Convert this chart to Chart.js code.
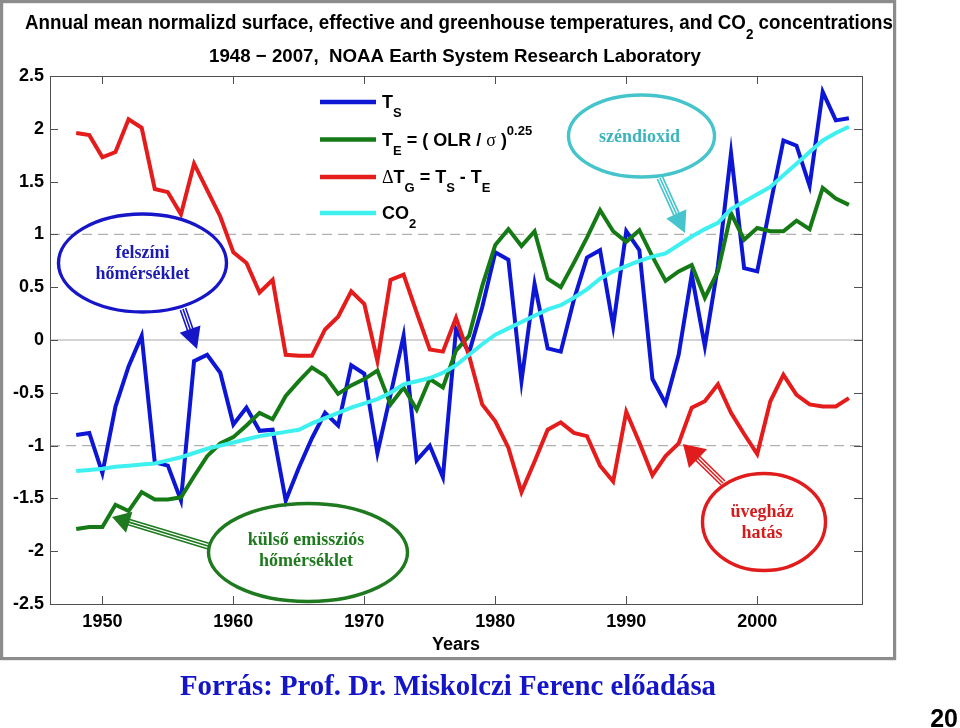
<!DOCTYPE html>
<html><head><meta charset="utf-8">
<script src="https://cdn.jsdelivr.net/npm/chart.js@4/dist/chart.umd.min.js"></script>
<style>html,body{margin:0;padding:0;background:#fff;}canvas{display:block;}</style>
</head><body>
<canvas id="c" width="960" height="728"></canvas>
<script>
// ---------- data ----------
const years = [1948,1949,1950,1951,1952,1953,1954,1955,1956,1957,1958,1959,
  1960,1961,1962,1963,1964,1965,1966,1967,1968,1969,
  1970,1971,1972,1973,1974,1975,1976,1977,1978,1979,
  1980,1981,1982,1983,1984,1985,1986,1987,1988,1989,
  1990,1991,1992,1993,1994,1995,1996,1997,1998,1999,
  2000,2001,2002,2003,2004,2005,2006,2007];
const surfaceTs = [-0.90,-0.88,-1.26,-0.63,-0.25,0.04,-1.16,-1.19,-1.52,-0.20,-0.14,-0.31,
  -0.80,-0.64,-0.86,-0.85,-1.52,-1.21,-0.93,-0.69,-0.81,-0.24,
  -0.32,-1.07,-0.52,0.04,-1.14,-1.00,-1.30,0.10,-0.12,0.31,
  0.83,0.76,-0.39,0.53,-0.08,-0.11,0.38,0.78,0.85,0.13,
  1.03,0.85,-0.37,-0.60,-0.14,0.62,-0.06,0.70,1.77,0.68,
  0.65,1.28,1.89,1.84,1.46,2.35,2.08,2.10];
const effectiveTe = [-1.79,-1.77,-1.77,-1.56,-1.62,-1.44,-1.51,-1.51,-1.49,-1.29,-1.10,-0.98,
  -0.92,-0.81,-0.69,-0.75,-0.53,-0.39,-0.26,-0.34,-0.51,-0.43,
  -0.37,-0.29,-0.61,-0.45,-0.66,-0.37,-0.45,-0.10,0.04,0.51,
  0.90,1.05,0.89,1.03,0.58,0.50,0.73,0.97,1.23,1.03,
  0.93,1.04,0.79,0.56,0.65,0.71,0.40,0.65,1.20,0.95,
  1.06,1.03,1.03,1.13,1.05,1.44,1.34,1.28];
const greenhouseDTg = [1.96,1.94,1.73,1.78,2.09,2.01,1.43,1.40,1.19,1.67,1.42,1.17,
  0.83,0.73,0.45,0.57,-0.14,-0.15,-0.15,0.10,0.22,0.46,
  0.34,-0.20,0.57,0.62,0.26,-0.09,-0.11,0.21,-0.15,-0.61,
  -0.77,-1.02,-1.44,-1.15,-0.85,-0.78,-0.88,-0.91,-1.19,-1.34,
  -0.68,-0.97,-1.28,-1.10,-0.98,-0.64,-0.58,-0.42,-0.69,-0.89,
  -1.08,-0.58,-0.33,-0.52,-0.61,-0.63,-0.63,-0.55];
const co2Norm = [-1.24,-1.23,-1.22,-1.20,-1.19,-1.18,-1.17,-1.14,-1.11,-1.07,-1.03,-1.00,
  -0.97,-0.94,-0.91,-0.89,-0.87,-0.85,-0.79,-0.74,-0.69,-0.64,
  -0.60,-0.56,-0.50,-0.42,-0.39,-0.36,-0.31,-0.24,-0.14,-0.04,
  0.05,0.11,0.17,0.23,0.29,0.33,0.40,0.48,0.58,0.65,
  0.70,0.75,0.79,0.82,0.90,0.98,1.05,1.11,1.24,1.31,
  1.38,1.45,1.56,1.67,1.78,1.89,1.96,2.02];
const xTickYears = [1950,1960,1970,1980,1990,2000];
const yTickValues = [2.5,2,1.5,1,0.5,0,-0.5,-1,-1.5,-2,-2.5];
const dashedLevels = [1,-1];
const solidLevels = [0];

// ---------- styles ----------
const SANS = "'Liberation Sans', Arial, sans-serif";
const SERIF = "'Liberation Serif', 'Times New Roman', serif";
const COL = {ts:'#0c16d4', te:'#157a15', tg:'#e41c1c', co2:'#3ef0f0'};

function pts(vals){ return years.map((y,i)=>({x:y,y:vals[i]})); }

function richWidth(ctx, parts, size, family){
  let w=0;
  for(const p of parts){
    const s = (p.sub||p.sup) ? Math.round(size*0.7) : size;
    ctx.font = (p.normal?'':'bold ') + s + 'px ' + (p.family||family);
    w += ctx.measureText(p.t).width;
  }
  return w;
}
function drawRich(ctx, x, y, parts, size, family, color){
  ctx.fillStyle = color; ctx.textBaseline='alphabetic'; ctx.textAlign='left';
  for(const p of parts){
    const s = (p.sub||p.sup) ? Math.round(size*0.7) : size;
    ctx.font = (p.normal?'':'bold ') + s + 'px ' + (p.family||family);
    const dy = p.sub ? size*0.5 : (p.sup ? -size*0.6 : 0);
    ctx.fillText(p.t, x, y+dy);
    x += ctx.measureText(p.t).width;
  }
}
// draw text at a given font size, squeezed horizontally to the target width
function drawRichFit(ctx, x, y, parts, size, family, color, target){
  const w = richWidth(ctx, parts, size, family);
  ctx.save(); ctx.translate(x,y); ctx.scale(target/w,1);
  drawRich(ctx, 0, 0, parts, size, family, color);
  ctx.restore();
}
function tripleArrow(ctx, x0,y0,x1,y1, headLen, headW, color){
  const L=Math.hypot(x1-x0,y1-y0), ux=(x1-x0)/L, uy=(y1-y0)/L, nx=-uy, ny=ux;
  const bx=x1-ux*headLen, by=y1-uy*headLen;
  ctx.save(); ctx.strokeStyle=color; ctx.fillStyle=color; ctx.lineWidth=1.6;
  for(const k of [-2.8,0,2.8]){
    ctx.beginPath(); ctx.moveTo(x0+nx*k,y0+ny*k); ctx.lineTo(bx+nx*k+ux*2,by+ny*k+uy*2); ctx.stroke();
  }
  ctx.beginPath(); ctx.moveTo(x1,y1);
  ctx.lineTo(bx+nx*headW/2,by+ny*headW/2); ctx.lineTo(bx-nx*headW/2,by-ny*headW/2);
  ctx.closePath(); ctx.fill(); ctx.restore();
}
function ellipseNote(ctx, cx, cy, rx, ry, color, textColor, lines){
  ctx.save(); ctx.strokeStyle=color; ctx.lineWidth=3.4;
  ctx.beginPath(); ctx.ellipse(cx,cy,rx,ry,0,0,Math.PI*2); ctx.stroke();
  ctx.fillStyle=textColor; ctx.font='bold 18px '+SERIF; ctx.textAlign='center'; ctx.textBaseline='alphabetic';
  for(const l of lines) ctx.fillText(l.t, cx+(l.dx||0), l.y);
  ctx.restore();
}

const overlay = {
  id:'overlay',
  beforeDraw(chart){
    const c=chart.ctx; c.save(); c.fillStyle='#fff'; c.fillRect(0,0,chart.width,chart.height); c.restore();
  },
  beforeDatasetsDraw(chart){
    const c=chart.ctx, a=chart.chartArea, ys=chart.scales.y;
    c.save();
    c.strokeStyle='#c4c4c4'; c.lineWidth=1.6;
    for(const v of solidLevels){ const p=ys.getPixelForValue(v); c.beginPath(); c.moveTo(a.left,p); c.lineTo(a.right,p); c.stroke(); }
    c.strokeStyle='#b0b0b0'; c.lineWidth=1.2; c.setLineDash([10,6]);
    for(const v of dashedLevels){ const p=ys.getPixelForValue(v); c.beginPath(); c.moveTo(a.left,p); c.lineTo(a.right,p); c.stroke(); }
    c.restore();
  },
  afterDatasetsDraw(chart){
    const c=chart.ctx, a=chart.chartArea, xs=chart.scales.x, ys=chart.scales.y;
    c.save();
    // box
    c.strokeStyle='#505050'; c.lineWidth=1;
    c.strokeRect(Math.round(a.left)+0.5, Math.round(a.top)+0.5, Math.round(a.right-a.left), Math.round(a.bottom-a.top));
    // inward ticks
    const tl=8;
    c.beginPath();
    for(const v of xTickYears){ const p=Math.round(xs.getPixelForValue(v))+0.5;
      c.moveTo(p,a.bottom); c.lineTo(p,a.bottom-tl); c.moveTo(p,a.top); c.lineTo(p,a.top+tl); }
    for(const v of yTickValues){ const p=Math.round(ys.getPixelForValue(v))+0.5;
      c.moveTo(a.left,p); c.lineTo(a.left+tl,p); c.moveTo(a.right,p); c.lineTo(a.right-tl,p); }
    c.stroke();

    // legend
    const ds=chart.data.datasets;
    const rows=[
      {y:102, parts:[{t:'T'},{t:'S',sub:true}]},
      {y:139.5, parts:[{t:'T'},{t:'E',sub:true},{t:' = ( OLR / '},{t:'σ',normal:true,family:SERIF},{t:' )'},{t:'0.25',sup:true}]},
      {y:177, parts:[{t:'Δ',normal:true,family:SERIF},{t:'T'},{t:'G',sub:true},{t:' = T'},{t:'S',sub:true},{t:' - T'},{t:'E',sub:true}]},
      {y:213, parts:[{t:'CO'},{t:'2',sub:true}]}
    ];
    rows.forEach((r,i)=>{
      c.strokeStyle=ds[i].borderColor; c.lineWidth=4.4; c.setLineDash([]);
      c.beginPath(); c.moveTo(320,r.y); c.lineTo(376,r.y); c.stroke();
      drawRich(c, 382, r.y+6, r.parts, 18, SANS, '#000');
    });

    // callouts
    ellipseNote(c, 142.5, 263, 84, 49, '#1616c8', '#1c1cb0', [{t:'felszíni',y:258},{t:'hőmérséklet',y:279}]);
    tripleArrow(c, 183, 309, 197, 349, 21, 22, '#1616c8');
    ellipseNote(c, 641.5, 136, 73, 41, '#45c4cc', '#3cb4bc', [{t:'széndioxid',y:142,dx:-2}]);
    tripleArrow(c, 660, 178, 685, 233, 21, 22, '#45c4cc');
    ellipseNote(c, 308, 552.5, 99.5, 49, '#1f7a1f', '#1f7a1f', [{t:'külső emissziós',y:545,dx:-2},{t:'hőmérséklet',y:566,dx:-2}]);
    tripleArrow(c, 208, 546, 112, 517, 18, 22, '#1f7a1f');
    ellipseNote(c, 764, 522, 61.5, 48.5, '#e01c1c', '#d41c1c', [{t:'üvegház',y:517,dx:-2},{t:'hatás',y:538,dx:-2}]);
    tripleArrow(c, 723, 483, 683, 444, 21, 26, '#e01c1c');
    c.restore();
  },
  afterDraw(chart){
    const c=chart.ctx;
    c.save();
    // outer frame
    c.strokeStyle='#8c8c8c'; c.lineWidth=3.2;
    c.strokeRect(1.6,1.6,893,657);
    // title
    const t1=[{t:'Annual mean normalizd surface, effective and greenhouse temperatures, and CO'},{t:'2',sub:true},{t:' concentrations'}];
    drawRichFit(c, 25, 29, t1, 19.5, SANS, '#000', 868);
    const t2=[{t:'1948 − 2007,  NOAA Earth System Research Laboratory'}];
    drawRichFit(c, 209, 62, t2, 18.5, SANS, '#000', 492);
    // footer
    const t3=[{t:'Forrás: Prof. Dr. Miskolczi Ferenc előadása'}];
    drawRichFit(c, 180, 695, t3, 29, SERIF, '#1414c8', 536);
    c.font='bold 25px '+SANS; c.fillStyle='#000'; c.textAlign='right'; c.textBaseline='alphabetic';
    c.fillText('20', 958, 727);
    c.restore();
  }
};

new Chart(document.getElementById('c'), {
  type:'line',
  data:{datasets:[
    {label:'T_S', data:pts(surfaceTs), borderColor:COL.ts, order:4},
    {label:'T_E', data:pts(effectiveTe), borderColor:COL.te, order:3},
    {label:'dT_G', data:pts(greenhouseDTg), borderColor:COL.tg, order:2},
    {label:'CO2', data:pts(co2Norm), borderColor:COL.co2, order:1}
  ]},
  options:{
    responsive:false, animation:false, devicePixelRatio:1,
    elements:{line:{borderWidth:4, tension:0, fill:false}, point:{radius:0, hoverRadius:0}},
    layout:{padding:{left:0, right:98, top:76, bottom:68}},
    plugins:{legend:{display:false}, title:{display:false}, tooltip:{enabled:false}},
    events:[],
    scales:{
      x:{type:'linear', min:1946, max:2008,
        afterBuildTicks:s=>{ s.ticks = xTickYears.map(v=>({value:v})); },
        afterFit:s=>{ s.height=56; },
        grid:{display:false, drawTicks:false}, border:{display:false},
        ticks:{autoSkip:false, maxRotation:0, padding:7, color:'#000', font:{family:SANS, size:18, weight:'bold'}, callback:v=>String(v)},
        title:{display:true, text:'Years', color:'#000', font:{family:SANS, size:18, weight:'bold'}, padding:{top:0,bottom:4}}
      },
      y:{type:'linear', min:-2.5, max:2.5,
        afterBuildTicks:s=>{ s.ticks = yTickValues.map(v=>({value:v})); },
        afterFit:s=>{ s.width=50; },
        grid:{display:false, drawTicks:false}, border:{display:false},
        ticks:{autoSkip:false, padding:6, color:'#000', font:{family:SANS, size:18, weight:'bold'}, callback:v=>(v<0?'-':'')+String(Math.abs(v))}
      }
    }
  },
  plugins:[overlay]
});
</script>
</body></html>
